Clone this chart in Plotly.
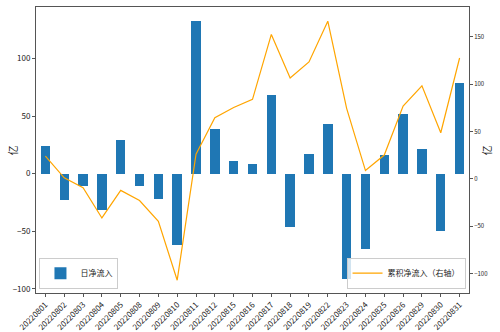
import plotly.graph_objects as go

dates = ["20220801", "20220802", "20220803", "20220804", "20220805", "20220808",
         "20220809", "20220810", "20220811", "20220812", "20220815", "20220816",
         "20220817", "20220818", "20220819", "20220822", "20220823", "20220824",
         "20220825", "20220826", "20220829", "20220830", "20220831"]
daily_flow = [24.0, -22.8, -10.4, -32.0, 29.1, -10.7, -21.9, -62.2, 132.9, 38.6,
              10.7, 8.6, 68.6, -46.1, 17.0, 43.0, -91.9, -65.7, 16.4, 51.6,
              21.4, -49.5, 78.9]
cum_flow = [24.0, 1.2, -9.2, -41.2, -12.1, -22.8, -44.7, -106.9, 26.0, 64.6,
            75.3, 83.9, 152.5, 106.4, 123.4, 166.4, 74.5, 8.8, 25.2, 76.8,
            98.2, 48.7, 127.6]
left_ticks = [-100, -50, 0, 50, 100]
right_ticks = [-100, -50, 0, 50, 100, 150]

FONT = "Noto Sans CJK SC, DejaVu Sans, sans-serif"
xpos = list(range(len(dates)))

fig = go.Figure()
fig.add_trace(go.Bar(x=xpos, y=daily_flow, name="日净流入", width=0.5,
                     marker=dict(color="#1f77b4", line=dict(width=0)),
                     legend="legend", showlegend=True))
fig.add_trace(go.Scatter(x=xpos, y=cum_flow, name="累积净流入（右轴）", mode="lines",
                         line=dict(color="#FFA500", width=1.2), yaxis="y2",
                         legend="legend2", showlegend=True))

axis_line = dict(showline=True, linecolor="#555", linewidth=1)
fig.update_layout(
    width=500, height=332,
    margin=dict(l=36, r=31, t=7, b=39),
    paper_bgcolor="white", plot_bgcolor="white",
    font=dict(family=FONT, color="#222"),
    showlegend=True,
    xaxis=dict(range=[-0.5, 22.5], tickmode="array", tickvals=xpos, ticktext=dates,
               tickangle=-45, tickfont=dict(size=8), ticks="outside", ticklen=3,
               tickcolor="#555", showgrid=False, zeroline=False, mirror=True,
               automargin=False, **axis_line),
    yaxis=dict(range=[-103.7, 144.7], tickvals=left_ticks, tickfont=dict(size=8),
               ticks="outside", ticklen=3, tickcolor="#555", showgrid=False,
               zeroline=False, mirror=True, automargin=False, **axis_line),
    yaxis2=dict(range=[-120.4, 181.4], tickvals=right_ticks, tickfont=dict(size=6),
                overlaying="y", side="right", ticks="outside", ticklen=3,
                tickcolor="#555", showgrid=False, zeroline=False, automargin=False,
                **axis_line),
    legend=dict(x=0.008, y=0.015, xanchor="left", yanchor="bottom",
                bordercolor="#ccc", borderwidth=1, bgcolor="rgba(255,255,255,0.8)",
                font=dict(size=8), itemwidth=30, tracegroupgap=0),
    legend2=dict(x=0.992, y=0.015, xanchor="right", yanchor="bottom",
                 bordercolor="#ccc", borderwidth=1, bgcolor="rgba(255,255,255,0.8)",
                 font=dict(size=8), itemwidth=30, tracegroupgap=0),
    bargap=0,
)
fig.add_annotation(text="亿", xref="paper", yref="paper", x=-0.055, y=0.5,
                   xanchor="center", yanchor="middle", showarrow=False,
                   textangle=-90, font=dict(size=10))
fig.add_annotation(text="亿", xref="paper", yref="paper", x=1.04, y=0.5,
                   xanchor="center", yanchor="middle", showarrow=False,
                   textangle=-90, font=dict(size=10))

fig.write_html("out.html")
